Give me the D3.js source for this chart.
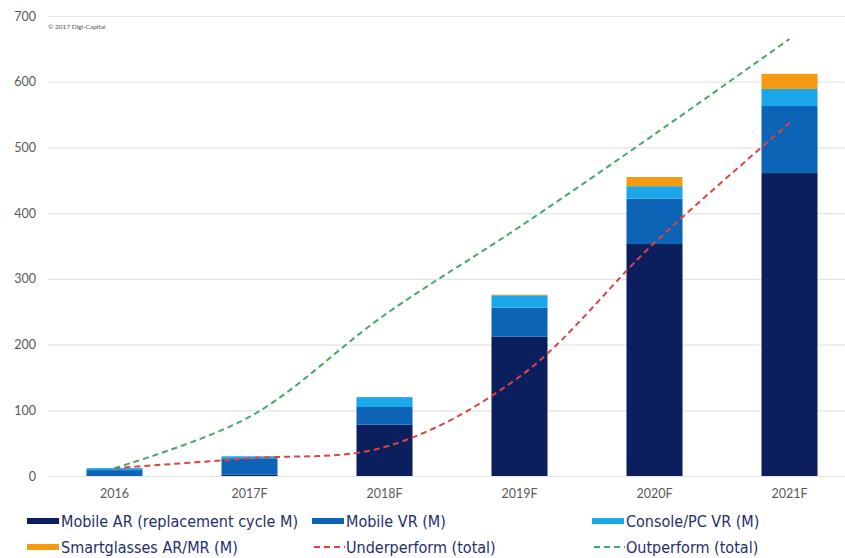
<!DOCTYPE html>
<html>
<head>
<meta charset="utf-8">
<script src="https://cdn.jsdelivr.net/npm/d3@7"></script>
<style>
  body { margin: 0; background: #fff; }
  svg { display: block; }
  .tick text { fill: #595959; font-family: Lato, "Liberation Sans", sans-serif; font-size: 12.5px; }
  .legend text { fill: #1f2f6b; font-family: "Liberation Sans Narrow", "DejaVu Sans Condensed", sans-serif; font-size: 16px; }
</style>
</head>
<body>
<svg width="845" height="558"></svg>
<script>
// chart data
var years = ["2016", "2017F", "2018F", "2019F", "2020F", "2021F"];
var mobileAR = [0, 2, 78, 212, 353, 461];
var mobileVR = [9, 25, 27, 44, 69, 102];
var consoleVR = [3, 3, 15, 19, 19, 26];
var smartglasses = [0, 0, 0, 1, 14, 23];
var underperform = [12, 27, 44, 151, 355, 537];
var outperform = [12, 90, 245, 379, 520, 665];
var yTicks = [0, 100, 200, 300, 400, 500, 600, 700];

var series = [
  { key: "mobileAR", name: "Mobile AR (replacement cycle M)", values: mobileAR, color: "#0b1f5e" },
  { key: "mobileVR", name: "Mobile VR (M)", values: mobileVR, color: "#0d64b6" },
  { key: "consoleVR", name: "Console/PC VR (M)", values: consoleVR, color: "#1ca7ea" },
  { key: "smartglasses", name: "Smartglasses AR/MR (M)", values: smartglasses, color: "#f59b12" }
];

var svg = d3.select("svg");

var x = d3.scaleBand().domain(years).range([47, 857]).paddingInner(0.585).paddingOuter(0.2925);
var y = d3.scaleLinear().domain([0, 700]).range([476, 16]);

// grid
svg.append("g")
  .selectAll("line")
  .data(yTicks)
  .enter().append("line")
  .attr("x1", 48)
  .attr("x2", 845)
  .attr("y1", function(d) { return y(d) + 0.5; })
  .attr("y2", function(d) { return y(d) + 0.5; })
  .attr("stroke", "#e4e4e4")
  .attr("stroke-width", 1.2);

// y axis labels
var yAxis = svg.append("g")
  .attr("transform", "translate(40,0)")
  .call(d3.axisLeft(y).tickValues(yTicks).tickSize(0).tickPadding(4));
yAxis.select(".domain").remove();

// x axis labels
var xAxis = svg.append("g")
  .attr("transform", "translate(0,486)")
  .call(d3.axisBottom(x).tickSize(0).tickPadding(3));
xAxis.select(".domain").remove();

// stacked bars
var table = years.map(function(yr, i) {
  var row = { year: yr };
  series.forEach(function(s) { row[s.key] = s.values[i]; });
  return row;
});
var stack = d3.stack().keys(series.map(function(s) { return s.key; }))(table);

svg.append("g")
  .selectAll("g")
  .data(stack)
  .enter().append("g")
  .attr("fill", function(d, i) { return series[i].color; })
  .selectAll("rect")
  .data(function(d) { return d; })
  .enter().append("rect")
  .attr("x", function(d) { return x(d.data.year); })
  .attr("y", function(d) { return y(d[1]); })
  .attr("width", x.bandwidth())
  .attr("height", function(d) { return y(d[0]) - y(d[1]); });

// scenario lines
var line = d3.line()
  .x(function(d, i) { return x(years[i]) + x.bandwidth() / 2; })
  .y(function(d) { return y(d); })
  .curve(d3.curveCatmullRom.alpha(0.5));

var lines = [
  { name: "Underperform (total)", values: underperform, color: "#e0433f" },
  { name: "Outperform (total)", values: outperform, color: "#44a866" }
];

svg.append("g")
  .selectAll("path")
  .data(lines)
  .enter().append("path")
  .attr("d", function(d) { return line(d.values); })
  .attr("fill", "none")
  .attr("stroke", function(d) { return d.color; })
  .attr("stroke-width", 2)
  .attr("stroke-dasharray", "6,4");

// copyright note
svg.append("text")
  .attr("x", 48)
  .attr("y", 29)
  .attr("fill", "#555")
  .style("font-family", "Lato, sans-serif")
  .style("font-size", "6.5px")
  .text("\u00a9 2017 Digi-Capital");

// legend
var legendItems = [
  { name: series[0].name, color: series[0].color, type: "box", x: 27, y: 521 },
  { name: series[1].name, color: series[1].color, type: "box", x: 312, y: 521 },
  { name: series[2].name, color: series[2].color, type: "box", x: 592, y: 521 },
  { name: series[3].name, color: series[3].color, type: "box", x: 27, y: 547 },
  { name: lines[0].name, color: lines[0].color, type: "dash", x: 312, y: 547 },
  { name: lines[1].name, color: lines[1].color, type: "dash", x: 592, y: 547 }
];

var legend = svg.append("g").attr("class", "legend");
var li = legend.selectAll("g")
  .data(legendItems)
  .enter().append("g")
  .attr("transform", function(d) { return "translate(" + d.x + "," + d.y + ")"; });

li.filter(function(d) { return d.type == "box"; })
  .append("rect")
  .attr("x", 0)
  .attr("y", -3)
  .attr("width", 32)
  .attr("height", 6)
  .attr("fill", function(d) { return d.color; });

li.filter(function(d) { return d.type == "dash"; })
  .append("line")
  .attr("x1", 2)
  .attr("x2", 33)
  .attr("y1", 0)
  .attr("y2", 0)
  .attr("stroke", function(d) { return d.color; })
  .attr("stroke-width", 2)
  .attr("stroke-dasharray", "6,4");

li.append("text")
  .attr("x", 34)
  .attr("y", 0)
  .attr("dy", "0.35em")
  .text(function(d) { return d.name; });
</script>
</body>
</html>
